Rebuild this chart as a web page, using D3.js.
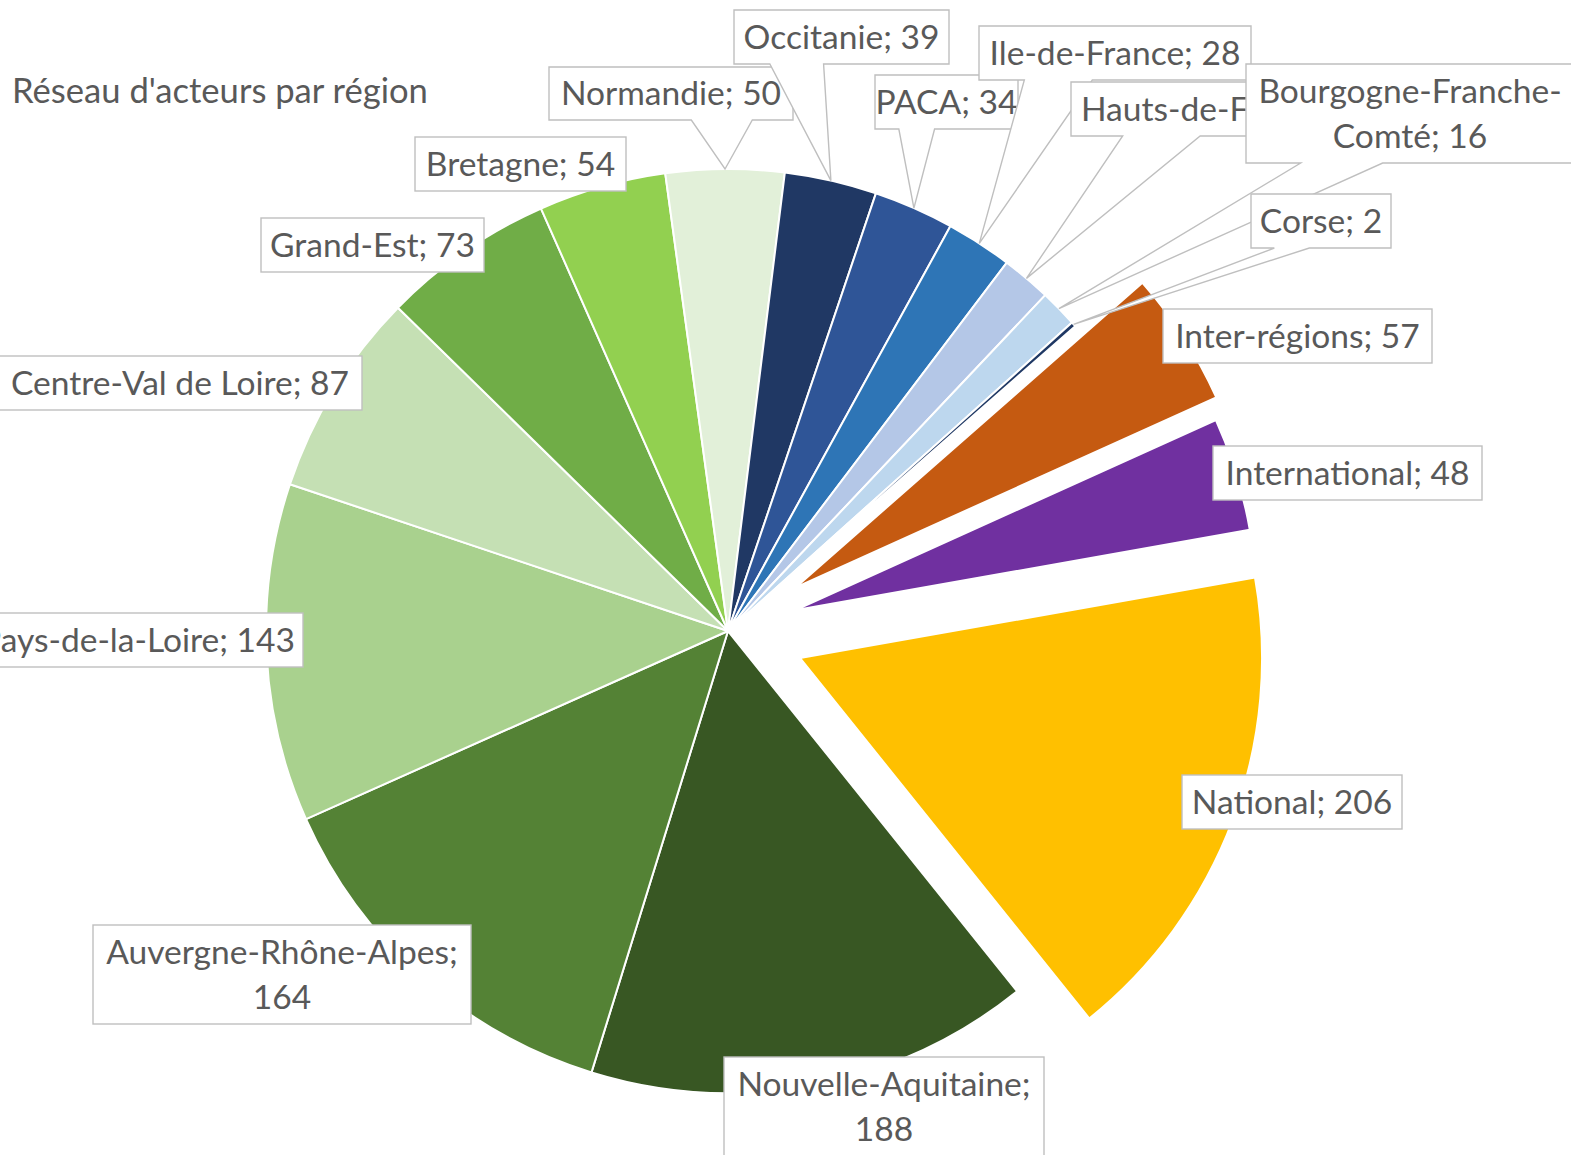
<!DOCTYPE html>
<html><head><meta charset="utf-8">
<script src="https://cdn.jsdelivr.net/npm/d3@7"></script>
<style>body{margin:0;background:#fff;} svg{display:block;}</style>
</head><body>
<svg id="chart" width="1571" height="1155"></svg>
<script>
// ---- data ----
const categories = ["Nouvelle-Aquitaine","Auvergne-Rhône-Alpes","Pays-de-la-Loire","Centre-Val de Loire","Grand-Est","Bretagne","Normandie","Occitanie","PACA","Ile-de-France","Hauts-de-France","Bourgogne-Franche-Comté","Corse","Inter-régions","International","National"];
const values = [188,164,143,87,73,54,50,39,34,28,21,16,2,57,48,206];
const colors = ["#385723","#548235","#A9D18E","#C5E0B4","#70AD47","#92D050","#E2F0D9","#203864","#2F5597","#2E75B6","#B4C7E7","#BDD7EE","#1F3864","#C55A11","#7030A0","#FFC000"];
const title = "Réseau d'acteurs par région";

// ---- layout (positions / styles) ----
const cx = 728, cy = 631, R = 462;
const startDeg = 141.25;
const explode = {"Inter-régions":80, "International":70, "National":77};
const layout = {
  "Nouvelle-Aquitaine": {box:[724,1057,320,99], wrap:"value"},
  "Auvergne-Rhône-Alpes": {box:[93,925,378,99], wrap:"value"},
  "Pays-de-la-Loire": {box:[-27,613,330,54]},
  "Centre-Val de Loire": {box:[-2,356,364,54]},
  "Grand-Est": {box:[261,218,223,54]},
  "Bretagne": {box:[415,137,211,54]},
  "Normandie": {box:[549,67,244,53], tail:true},
  "Occitanie": {box:[734,10,215,54], tail:true},
  "PACA": {box:[875,75,143,54], tail:true},
  "Ile-de-France": {box:[979,26,272,54], tail:true},
  "Hauts-de-France": {box:[1071,82,310,54], tail:true, textX:1081, anchor:"start"},
  "Bourgogne-Franche-Comté": {box:[1246,64,328,99], tail:true, wrap:"Franche-"},
  "Corse": {box:[1251,194,140,54], tail:true},
  "Inter-régions": {box:[1163,309,269,54]},
  "International": {box:[1213,446,269,54]},
  "National": {box:[1182,775,220,54]}
};
const FONT = "Lato, 'Open Sans', sans-serif";
const TEXT_COLOR = "#595959";

const svg = d3.select("#chart");

// font size fit
function measure(str, size){
  const t = svg.append("text").attr("font-family",FONT).attr("font-size",size).text(str);
  const w = t.node().getComputedTextLength(); t.remove(); return w;
}
const fs = 100*196/measure("Occitanie; 39",100);
const fsTitle = 100*416/measure(title,100);

const rows = categories.map((c,i)=>({name:c, value:values[i], color:colors[i]}));
const pie = d3.pie().sort(null).value(d=>d.value)
  .startAngle(startDeg*Math.PI/180).endAngle((startDeg+360)*Math.PI/180);
const arcs = pie(rows);
const arc = d3.arc().innerRadius(0).outerRadius(R);
const rim = d3.arc().innerRadius(R).outerRadius(R);

function offset(d){
  const e = explode[d.data.name] || 0;
  const m = (d.startAngle+d.endAngle)/2;
  return [e*Math.sin(m), -e*Math.cos(m)];
}

// title
svg.append("text").attr("x",12).attr("y",91).attr("dy","0.35em")
  .attr("font-family",FONT).attr("font-size",fsTitle).attr("fill",TEXT_COLOR).text(title);

// slices
const g = svg.append("g").attr("transform",`translate(${cx},${cy})`);
g.selectAll("path.slice").data(arcs).join("path")
  .attr("class","slice")
  .attr("d",arc)
  .attr("transform",d=>{const o=offset(d);return `translate(${o[0]},${o[1]})`;})
  .attr("fill",d=>d.data.color)
  .attr("stroke","#fff").attr("stroke-width",2).attr("stroke-linejoin","round");

// callout path (wedgeRectCallout)
function callout(l,t,w,h,px,py){
  const r=l+w,b=t+h,hc=l+w/2,vc=t+h/2;
  const dxPos=px-hc, dyPos=py-vc;
  const dq=dxPos*h/w, dz=Math.abs(dyPos)-Math.abs(dq);
  const xg1=dxPos>0?7:2, xg2=dxPos>0?10:5, yg1=dyPos>0?7:2, yg2=dyPos>0?10:5;
  const x1=l+w*xg1/12, x2=l+w*xg2/12, y1=t+h*yg1/12, y2=t+h*yg2/12;
  const xl = dz>0? l : (dxPos>0? l : px), yl = dz>0? y1 : (dxPos>0? y1 : py);
  const xt = dz>0? (dyPos>0? x1 : px) : x1, yt = dz>0? (dyPos>0? t : py) : t;
  const xr = dz>0? r : (dxPos>0? px : r), yr = dz>0? y1 : (dxPos>0? py : y1);
  const xb = dz>0? (dyPos>0? px : x1) : x1, yb = dz>0? (dyPos>0? py : b) : b;
  const p = d3.path();
  p.moveTo(l,t); p.lineTo(x1,t); p.lineTo(xt,yt); p.lineTo(x2,t); p.lineTo(r,t);
  p.lineTo(r,y1); p.lineTo(xr,yr); p.lineTo(r,y2); p.lineTo(r,b);
  p.lineTo(x2,b); p.lineTo(xb,yb); p.lineTo(x1,b); p.lineTo(l,b);
  p.lineTo(l,y2); p.lineTo(xl,yl); p.lineTo(l,y1); p.closePath();
  return p.toString();
}

// labels
const lg = svg.append("g");
arcs.forEach(d=>{
  const L = layout[d.data.name]; if(!L) return;
  const [x,y,w,h] = L.box;
  let shape;
  if(L.tail){
    const c = rim.centroid(d), o = offset(d);
    const px = cx+c[0]+o[0], py = cy+c[1]+o[1];
    shape = lg.append("path").attr("d",callout(x,y,w,h,px,py));
  } else {
    shape = lg.append("rect").attr("x",x).attr("y",y).attr("width",w).attr("height",h);
  }
  shape.attr("fill","#fff").attr("stroke","#BFBFBF").attr("stroke-width",1.4).attr("stroke-linejoin","miter");
  const full = `${d.data.name}; ${d.data.value}`;
  let lines = [full];
  if(L.wrap==="value") lines = [`${d.data.name};`, `${d.data.value}`];
  else if(L.wrap){ const k = full.indexOf(L.wrap)+L.wrap.length; lines=[full.slice(0,k), full.slice(k)]; }
  const step = 45;
  const y0 = y + h/2 - (lines.length-1)*step/2;
  lines.forEach((s,i)=>{
    lg.append("text").attr("x",L.textX!=null?L.textX:x+w/2).attr("y",y0+i*step).attr("dy","0.35em")
      .attr("text-anchor",L.anchor||"middle").attr("font-family",FONT).attr("font-size",fs)
      .attr("fill",TEXT_COLOR).text(s);
  });
});
</script>
</body></html>
